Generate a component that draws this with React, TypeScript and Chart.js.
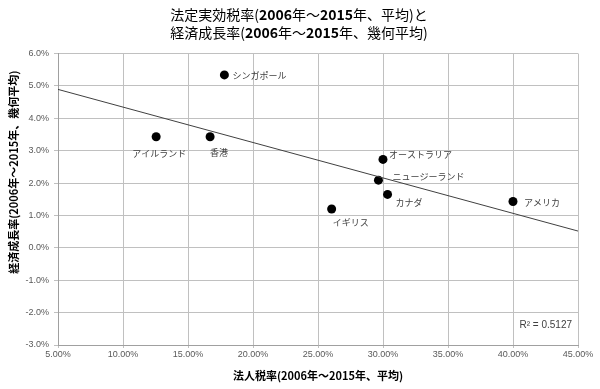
import React, { useEffect, useRef } from "react";
import { Chart, registerables } from "chart.js";

Chart.register(...registerables);

// ---- Data ----
const countries = ["シンガポール", "アイルランド", "香港", "イギリス", "オーストラリア", "ニュージーランド", "カナダ", "アメリカ"];
const corporateTaxRates = [17.8, 12.55, 16.7, 26.05, 30.0, 29.65, 30.35, 40.0];
const growthRates = [5.34, 3.43, 3.43, 1.2, 2.73, 2.09, 1.65, 1.43];
const xAxisRange = [5, 45];
const yAxisRange = [-3, 6];
const rSquaredText = "R² = 0.5127";

const titleLines = ["法定実効税率(2006年～2015年、平均)と", "経済成長率(2006年～2015年、幾何平均)"];
const xTitle = "法人税率(2006年～2015年、平均)";
const yTitle = "経済成長率(2006年～2015年、幾何平均)";

// label placement styles (pixel offsets from each point)
const labelOffsets = [
  { dx: 8, dy: 1, align: "left" },
  { dx: 3, dy: 17, align: "center" },
  { dx: 9, dy: 16, align: "center" },
  { dx: 1, dy: 14, align: "left" },
  { dx: 6, dy: -5, align: "left" },
  { dx: 14, dy: -4, align: "left" },
  { dx: 8, dy: 8, align: "left" },
  { dx: 11, dy: 1, align: "left" },
];

// least squares linear trend from data
function trend() {
  const n = corporateTaxRates.length;
  const mx = corporateTaxRates.reduce((a, b) => a + b, 0) / n;
  const my = growthRates.reduce((a, b) => a + b, 0) / n;
  let sxy = 0;
  let sxx = 0;
  for (let i = 0; i < n; i++) {
    sxy += (corporateTaxRates[i] - mx) * (growthRates[i] - my);
    sxx += (corporateTaxRates[i] - mx) ** 2;
  }
  const b = sxy / sxx;
  const a = my - b * mx;
  return xAxisRange.map((x) => ({ x, y: a + b * x }));
}

const CJK = '"Noto Sans CJK JP"';

function drawMixed(ctx: CanvasRenderingContext2D, text: string, cx: number, cy: number, size: number) {
  const parts = text.split(/(\d+)/).filter((p) => p.length > 0);
  const fonts = parts.map((p) => (/^\d+$/.test(p) ? `bold ${size}px ${CJK}` : `${size}px ${CJK}`));
  let total = 0;
  const widths = parts.map((p, i) => {
    ctx.font = fonts[i];
    const w = ctx.measureText(p).width;
    total += w;
    return w;
  });
  let x = cx - total / 2;
  ctx.textAlign = "left";
  parts.forEach((p, i) => {
    ctx.font = fonts[i];
    ctx.fillText(p, x, cy);
    x += widths[i];
  });
}

const overlayPlugin = {
  id: "overlayLabels",
  afterDatasetsDraw(chart: any) {
    const ctx = chart.ctx;
    const meta = chart.getDatasetMeta(1);
    ctx.save();
    ctx.font = `9px ${CJK}`;
    ctx.fillStyle = "#404040";
    ctx.textBaseline = "middle";
    meta.data.forEach((pt: any, i: number) => {
      const o = labelOffsets[i];
      ctx.textAlign = o.align;
      ctx.fillText(countries[i], pt.x + o.dx, pt.y + o.dy);
    });
    const area = chart.chartArea;
    ctx.textAlign = "right";
    ctx.font = '10px "Liberation Sans"';
    ctx.fillStyle = "#404040";
    ctx.fillText(rSquaredText, area.right - 6, area.bottom - 20);

    // chart title
    ctx.fillStyle = "#000";
    drawMixed(ctx, titleLines[0], chart.width / 2 - 1, 14.5, 14);
    drawMixed(ctx, titleLines[1], chart.width / 2 - 1, 33, 14);

    // y axis title
    ctx.translate(13.5, (area.top + area.bottom) / 2 - 27);
    ctx.rotate(-Math.PI / 2);
    ctx.textAlign = "center";
    ctx.font = `bold 11px ${CJK}`;
    ctx.fillStyle = "#000";
    ctx.fillText(yTitle, 0, 0);
    ctx.restore();
  },
};

export default function App() {
  const ref = useRef<HTMLCanvasElement>(null);
  useEffect(() => {
    if (!ref.current) return;
    const points = corporateTaxRates.map((x, i) => ({ x, y: growthRates[i] }));
    const chart = new Chart(ref.current, {
      type: "scatter",
      data: {
        datasets: [
          {
            type: "line",
            data: trend(),
            borderColor: "#404040",
            borderWidth: 1,
            pointRadius: 0,
            fill: false,
          } as any,
          {
            data: points,
            backgroundColor: "#000",
            borderWidth: 0,
            pointRadius: 4.5,
          },
        ],
      },
      options: {
        responsive: false,
        animation: false,
        layout: { padding: { left: 0, right: 22, top: 53.5, bottom: 0 } },
        plugins: {
          legend: { display: false },
          tooltip: { enabled: false },
          title: { display: false },
        },
        scales: {
          x: {
            type: "linear",
            min: xAxisRange[0],
            max: xAxisRange[1],
            ticks: {
              stepSize: 5,
              callback: (v: any) => Number(v).toFixed(2) + "%",
              font: { family: "Liberation Sans", size: 9 },
              color: "#595959",
              padding: 1,
              maxRotation: 0,
            },
            grid: { color: "#c0c0c0", tickLength: 3 },
            border: { color: "#a0a0a0" },
            title: {
              display: true,
              text: xTitle,
              color: "#000",
              font: { family: CJK, size: 11, weight: "bold" },
              padding: { top: 0, bottom: 7 },
            },
            afterFit: (s: any) => {
              s.height = 44;
            },
          },
          y: {
            type: "linear",
            min: yAxisRange[0],
            max: yAxisRange[1],
            ticks: {
              stepSize: 1,
              callback: (v: any) => Number(v).toFixed(1) + "%",
              font: { family: "Liberation Sans", size: 9 },
              color: "#595959",
              padding: 5,
            },
            grid: { color: "#c0c0c0", tickLength: 4 },
            border: { color: "#a0a0a0" },
            afterFit: (s: any) => {
              s.width = 58;
            },
          },
        },
      },
      plugins: [overlayPlugin],
    });
    return () => chart.destroy();
  }, []);
  return (
    <div style={{ position: "absolute", left: 0, top: 0, width: 600, height: 389, background: "#fff" }}>
      <canvas ref={ref} width={600} height={389} />
    </div>
  );
}
